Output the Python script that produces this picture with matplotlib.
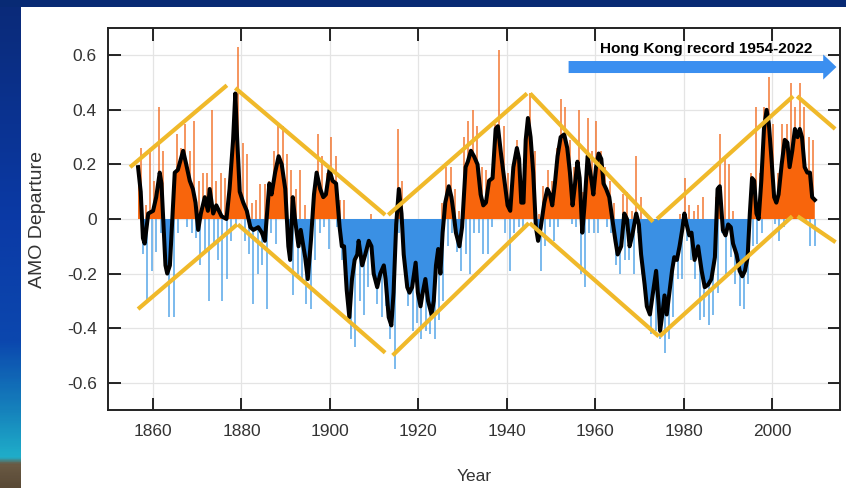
import numpy as np
import matplotlib
matplotlib.use("Agg")
import matplotlib.pyplot as plt
from matplotlib.patches import Rectangle, FancyArrow
from matplotlib.colors import LinearSegmentedColormap

# ---------------- data ----------------
smooth_year = [1856.6, 1857.2, 1857.7, 1858.1, 1858.9, 1860.0, 1860.7, 1861.5, 1861.9, 1862.8,
               1863.2, 1863.8, 1864.9, 1865.6, 1866.8, 1867.5, 1868.3, 1869.0, 1869.6, 1870.2,
               1870.8, 1871.7, 1872.4, 1872.8, 1873.6, 1874.3, 1875.5, 1876.6, 1877.3, 1878.1,
               1878.6, 1879.0, 1879.6, 1880.4, 1881.2, 1882.0, 1882.7, 1883.8, 1884.6, 1885.3,
               1886.3, 1886.8, 1887.6, 1888.4, 1889.1, 1889.9, 1890.6, 1891.0, 1891.6, 1892.1,
               1892.9, 1893.4, 1894.4, 1895.0, 1895.7, 1896.4, 1897.0, 1897.8, 1898.5, 1899.1,
               1899.9, 1900.6, 1901.4, 1902.2, 1902.7, 1903.2, 1903.8, 1904.4, 1905.0, 1905.6,
               1906.2, 1906.5, 1907.3, 1908.0, 1908.8, 1909.4, 1909.9, 1910.7, 1911.4, 1912.2,
               1912.6, 1913.3, 1913.9, 1914.4, 1915.0, 1915.6, 1916.2, 1916.7, 1917.5, 1918.0,
               1918.6, 1919.4, 1919.9, 1920.5, 1921.0, 1921.6, 1922.2, 1923.0, 1923.5, 1924.0,
               1924.5, 1925.0, 1925.5, 1926.1, 1926.9, 1927.5, 1928.0, 1928.5, 1929.3, 1929.9,
               1930.7, 1931.2, 1931.9, 1932.6, 1933.4, 1934.1, 1934.7, 1935.3, 1936.0, 1936.8,
               1937.5, 1938.0, 1938.7, 1939.4, 1940.2, 1940.8, 1941.5, 1942.3, 1942.8, 1943.3,
               1943.8, 1944.3, 1944.8, 1945.4, 1946.0, 1946.6, 1947.1, 1947.7, 1948.5, 1949.2,
               1949.8, 1950.3, 1950.9, 1951.5, 1952.2, 1953.0, 1953.7, 1954.3, 1954.9, 1955.4,
               1956.0, 1956.5, 1957.1, 1957.6, 1958.3, 1959.1, 1959.6, 1960.2, 1960.8, 1961.4,
               1961.9, 1962.5, 1963.2, 1963.8, 1964.6, 1965.1, 1965.9, 1966.6, 1967.2, 1967.8,
               1968.4, 1969.3, 1969.9, 1970.4, 1971.2, 1971.7, 1972.4, 1973.0, 1973.8, 1974.4,
               1974.7, 1975.2, 1975.7, 1976.2, 1976.8, 1977.4, 1977.9, 1978.5, 1979.1, 1979.7,
               1980.2, 1980.7, 1981.3, 1981.8, 1982.5, 1983.3, 1984.1, 1984.8, 1985.6, 1986.3,
               1987.1, 1987.7, 1988.2, 1988.9, 1989.5, 1990.1, 1990.7, 1991.2, 1992.0, 1992.7,
               1993.3, 1993.9, 1994.5, 1995.0, 1995.5, 1996.0, 1996.5, 1997.0, 1997.6, 1998.2,
               1998.8, 1999.3, 1999.9, 2000.5, 2001.0, 2001.5, 2002.2, 2002.9, 2003.5, 2004.0,
               2004.6, 2005.2, 2005.8, 2006.3, 2006.8, 2007.4, 2008.0, 2008.6, 2009.1, 2009.7]
smooth_val = [0.19, 0.10, -0.07, -0.09, 0.02, 0.03, 0.08, 0.17, 0.13, -0.17,
              -0.20, -0.17, 0.17, 0.18, 0.25, 0.20, 0.14, 0.11, 0.06, -0.04,
              0.02, 0.08, 0.03, 0.11, 0.02, 0.05, 0.01, 0.00, 0.11, 0.29,
              0.46, 0.30, 0.10, 0.06, 0.03, -0.03, -0.04, -0.03, -0.05, -0.08,
              0.13, 0.09, 0.17, 0.23, 0.20, 0.11, -0.10, -0.15, 0.08, 0.00,
              -0.10, -0.04, -0.14, -0.22, -0.08, 0.09, 0.17, 0.11, 0.08, 0.09,
              0.18, 0.14, 0.13, -0.03, -0.10, -0.10, -0.26, -0.36, -0.22, -0.15,
              -0.13, -0.08, -0.17, -0.13, -0.08, -0.10, -0.20, -0.25, -0.20, -0.17,
              -0.22, -0.36, -0.39, -0.27, -0.02, 0.11, 0.02, -0.13, -0.25, -0.27,
              -0.25, -0.16, -0.27, -0.32, -0.27, -0.22, -0.30, -0.35, -0.30, -0.17,
              -0.11, -0.20, -0.05, 0.06, 0.12, 0.08, 0.02, -0.05, -0.10, -0.03,
              0.19, 0.21, 0.25, 0.23, 0.20, 0.09, 0.05, 0.06, 0.14, 0.15,
              0.33, 0.34, 0.24, 0.15, 0.05, 0.03, 0.19, 0.26, 0.22, 0.06,
              0.06, 0.29, 0.37, 0.30, 0.17, -0.03, -0.08, -0.03, 0.06, 0.11,
              0.09, 0.05, 0.13, 0.23, 0.30, 0.31, 0.26, 0.17, 0.05, 0.12,
              0.21, 0.15, -0.05, 0.05, 0.23, 0.15, 0.09, 0.19, 0.24, 0.22,
              0.13, 0.11, 0.08, 0.01, -0.08, -0.13, -0.10, 0.02, 0.00, -0.10,
              -0.06, 0.02, -0.02, -0.13, -0.24, -0.32, -0.35, -0.28, -0.19, -0.32,
              -0.41, -0.35, -0.28, -0.35, -0.27, -0.19, -0.14, -0.15, -0.10, -0.04,
              0.02, -0.02, -0.06, -0.05, -0.15, -0.10, -0.19, -0.25, -0.24, -0.22,
              -0.14, 0.11, 0.12, -0.04, -0.06, -0.02, -0.03, -0.09, -0.13, -0.19,
              -0.21, -0.19, -0.14, 0.02, 0.15, 0.14, 0.02, 0.00, 0.14, 0.33,
              0.40, 0.35, 0.22, 0.08, 0.06, 0.09, 0.20, 0.29, 0.28, 0.19,
              0.25, 0.33, 0.30, 0.33, 0.30, 0.19, 0.17, 0.17, 0.08, 0.07]

raw_year_first = 1857
raw_hi = [0.26, 0.05, 0.26, 0.14, 0.41, 0.25, 0.00, 0.05, 0.31, 0.26,
          0.35, 0.25, 0.36, 0.14, 0.17, 0.17, 0.40, 0.14, 0.17, 0.15,
          0.17, 0.37, 0.63, 0.28, 0.24, 0.06, 0.07, 0.13, 0.13, 0.14,
          0.25, 0.35, 0.34, 0.24, 0.18, 0.11, 0.18, 0.05, 0.00, 0.09,
          0.31, 0.23, 0.17, 0.30, 0.23, 0.07, 0.07, 0.00, 0.00, 0.00,
          0.00, 0.00, 0.02, 0.00, 0.00, 0.00, 0.00, 0.00, 0.33, 0.14,
          0.00, 0.00, 0.00, 0.00, 0.00, 0.00, 0.00, 0.00, 0.06, 0.19,
          0.19, 0.11, 0.03, 0.30, 0.36, 0.40, 0.34, 0.19, 0.18, 0.12,
          0.35, 0.62, 0.34, 0.17, 0.13, 0.29, 0.07, 0.26, 0.46, 0.25,
          0.02, 0.12, 0.18, 0.14, 0.26, 0.44, 0.41, 0.29, 0.19, 0.40,
          0.10, 0.37, 0.25, 0.36, 0.25, 0.19, 0.14, 0.06, 0.00, 0.09,
          0.10, 0.03, 0.23, 0.08, 0.00, 0.00, 0.00, 0.00, 0.00, 0.00,
          0.00, 0.00, 0.02, 0.15, 0.05, 0.03, 0.05, 0.08, 0.00, 0.00,
          0.08, 0.31, 0.22, 0.20, 0.03, 0.00, 0.00, 0.00, 0.17, 0.41,
          0.17, 0.41, 0.52, 0.35, 0.17, 0.35, 0.35, 0.50, 0.41, 0.50,
          0.41, 0.30, 0.29]
raw_lo = [-0.13, -0.30, -0.19, -0.12, -0.05, -0.14, -0.36, -0.36, -0.05, 0.00,
          -0.03, -0.05, -0.07, -0.17, -0.12, -0.30, -0.10, -0.15, -0.30, -0.22,
          -0.08, -0.03, 0.00, -0.08, -0.13, -0.31, -0.20, -0.17, -0.33, -0.05,
          -0.09, 0.00, 0.00, -0.05, -0.28, -0.20, -0.22, -0.31, -0.33, -0.15,
          -0.05, -0.03, -0.11, 0.00, -0.03, -0.15, -0.20, -0.44, -0.47, -0.30,
          -0.35, -0.25, -0.20, -0.31, -0.36, -0.32, -0.44, -0.55, -0.05, -0.10,
          -0.32, -0.41, -0.38, -0.44, -0.41, -0.42, -0.44, -0.37, -0.30, -0.10,
          -0.05, -0.12, -0.19, -0.13, -0.20, -0.05, -0.05, -0.13, -0.13, -0.03,
          0.00, 0.00, -0.05, -0.19, -0.05, -0.03, -0.03, 0.00, 0.00, -0.05,
          -0.19, -0.10, -0.03, -0.08, -0.03, 0.00, 0.00, -0.02, -0.03, -0.20,
          -0.25, -0.05, -0.05, -0.05, 0.00, -0.03, -0.05, -0.17, -0.20, -0.15,
          -0.15, -0.20, -0.05, -0.20, -0.30, -0.42, -0.41, -0.44, -0.49, -0.44,
          -0.36, -0.22, -0.22, -0.08, -0.15, -0.22, -0.37, -0.36, -0.39, -0.35,
          -0.27, -0.05, -0.20, -0.14, -0.24, -0.32, -0.33, -0.24, -0.10, -0.09,
          -0.05, 0.00, 0.00, -0.02, -0.08, -0.03, 0.00, 0.00, 0.00, 0.00,
          -0.02, -0.10, -0.10]

# yellow envelope segments (start year, end year) and (start value, end value)
upper_x = [[1854.8, 1876.7], [1878.6, 1912.5], [1913.2, 1944.6],
           [1945.3, 1973.1], [1974.0, 2004.8], [2005.7, 2014.3]]
upper_y = [[0.19, 0.49], [0.48, 0.015], [0.015, 0.46],
           [0.46, -0.01], [0.00, 0.45], [0.45, 0.33]]
lower_x = [[1856.6, 1879.0], [1879.2, 1912.5], [1914.2, 1945.0],
           [1945.2, 1974.4], [1974.6, 2004.6], [2005.8, 2014.4]]
lower_y = [[-0.33, -0.02], [-0.02, -0.49], [-0.50, -0.015],
           [-0.015, -0.43], [-0.43, 0.01], [0.01, -0.085]]

x_ticks = [1860, 1880, 1900, 1920, 1940, 1960, 1980, 2000]
y_ticks = [-0.6, -0.4, -0.2, 0, 0.2, 0.4, 0.6]
y_ticklabels = ["-0.6", "-0.4", "-0.2", "0", "0.2", "0.4", "0.6"]

arrow_label = "Hong Kong record 1954-2022"
arrow_from, arrow_to, arrow_level = 1954.0, 2014.6, 0.557

# ---------------- figure ----------------
W, H = 846, 488
fig = plt.figure(figsize=(W / 100, H / 100), dpi=100, facecolor="white")

# slide decoration: left gradient strip and top band
strip = fig.add_axes([0, 0, 20 / W, 1])
cmap = LinearSegmentedColormap.from_list(
    "slide", [(0.0, "#0a2a78"), (0.45, "#0b3aa6"), (0.70, "#0b47ae"),
              (0.85, "#1685bd"), (0.94, "#1faec9"), (0.955, "#6a5a44"), (1.0, "#5a4a36")])
strip.imshow(np.linspace(0, 1, 300).reshape(-1, 1), aspect="auto", cmap=cmap)
strip.set_axis_off()
fig.patches.append(Rectangle((0, 1 - 7 / H), 1, 7 / H, transform=fig.transFigure,
                             facecolor="#082a74", edgecolor="none", zorder=10))

ax = fig.add_axes([108 / W, 1 - 410 / H, 732 / W, 382 / H])
ax.set_xlim(1849.8, 2015.4)
ax.set_ylim(-0.70, 0.70)

# raw spikes
raw_years = np.arange(raw_year_first, raw_year_first + len(raw_hi))
hi = np.array(raw_hi)
lo = np.array(raw_lo)
ax.vlines(raw_years[hi > 0] + 0.3, 0, hi[hi > 0], color="#f26d22", lw=1.2, alpha=0.85, zorder=2)
ax.vlines(raw_years[lo < 0] + 0.7, lo[lo < 0], 0, color="#4a9fe6", lw=1.2, alpha=0.85, zorder=2)

# filled smoothed series
sx = np.array(smooth_year)
sy = np.array(smooth_val)
ax.fill_between(sx, sy, 0, where=sy >= 0, interpolate=True, color="#f8650c", lw=0, zorder=3)
ax.fill_between(sx, sy, 0, where=sy <= 0, interpolate=True, color="#3a90e4", lw=0, zorder=3)
ax.plot(sx, sy, color="black", lw=2.9, solid_joinstyle="round", zorder=4)

# envelope lines
for xs, ys in zip(upper_x + lower_x, upper_y + lower_y):
    ax.plot(xs, ys, color="#f0b92a", lw=3.0, solid_capstyle="butt", zorder=5)

# arrow
ax.add_patch(FancyArrow(arrow_from, arrow_level, arrow_to - arrow_from, 0,
                        width=0.044, head_width=0.092, head_length=3.0,
                        length_includes_head=True, color="#3b8ff0", lw=0,
                        zorder=6, clip_on=False))
ax.text(1985.1, 0.623, arrow_label, ha="center", va="center",
        fontsize=11.1, fontweight="bold", family="Liberation Sans", color="black", zorder=6)

# axes styling
ax.set_xticks(x_ticks)
ax.set_yticks(y_ticks)
ax.set_yticklabels(y_ticklabels)
ax.grid(True, color="#e4e4e4", lw=0.9, zorder=0)
ax.set_axisbelow(True)
ax.tick_params(direction="in", length=9, width=1.2, top=True, right=True,
               labelsize=12.5, colors="black", labelcolor="#333333")
ax.tick_params(axis="x", pad=10)
ax.tick_params(axis="y", pad=8)
for lab in ax.get_xticklabels() + ax.get_yticklabels():
    lab.set_family("Liberation Sans")
for sp in ax.spines.values():
    sp.set_linewidth(1.4)
    sp.set_color("#222222")

ax.set_xlabel("Year", fontsize=12.5, family="Liberation Sans", color="#333333")
ax.set_ylabel("AMO Departure", fontsize=14, family="Liberation Sans", color="#333333")
ax.xaxis.set_label_coords(0.5, -0.155)
ax.yaxis.set_label_coords(-0.085, 0.5)

fig.savefig("out.png", dpi=100, facecolor="white")
